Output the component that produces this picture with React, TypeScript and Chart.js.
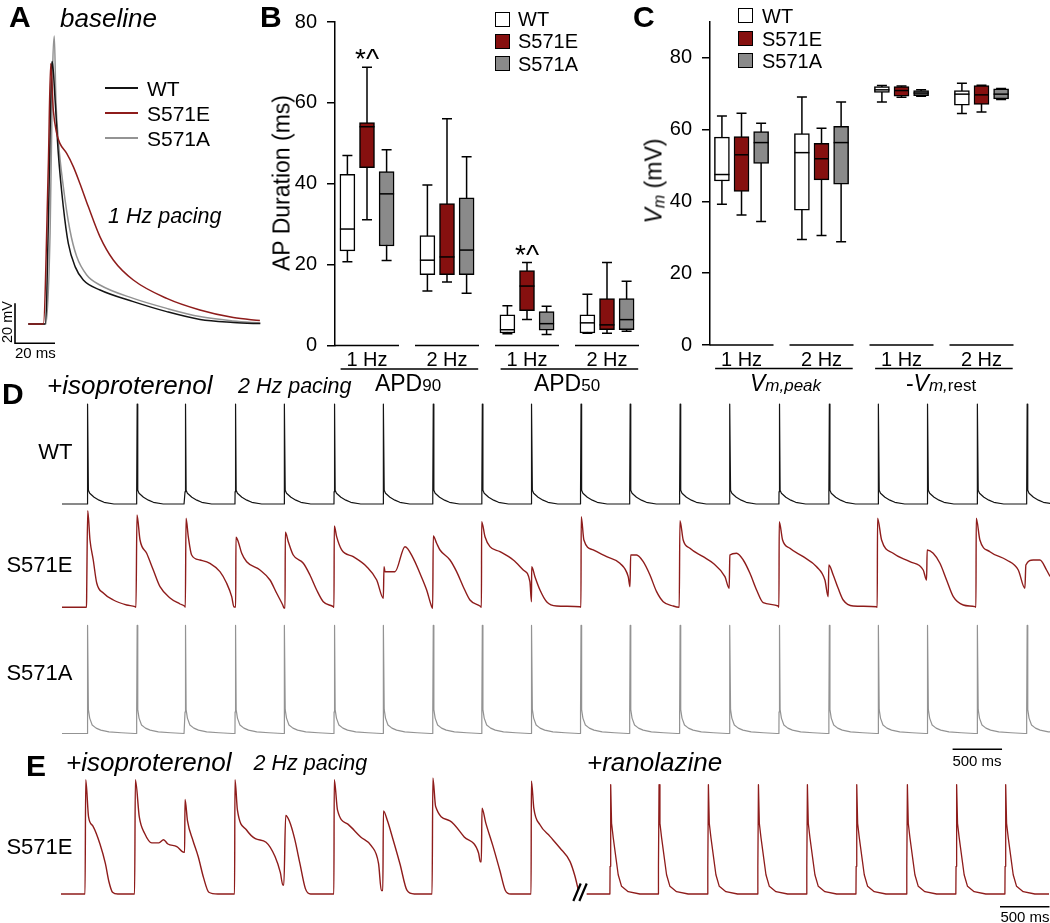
import React, { useEffect, useRef } from "react";
import { Chart, registerables } from "chart.js";

Chart.register(...registerables);

const FONT = "'Liberation Sans', Arial, Helvetica, sans-serif";
Chart.defaults.font.family = FONT;
Chart.defaults.color = "#000";

// ======================= DATA =======================
type Pt = [number, number];
type Box = [number, number, number, number, number]; // [min, q1, median, q3, max]

// Panel A – baseline single APs at 1 Hz pacing: [time (ms), Vm (mV)]
const apWT: Pt[] = [
  [0, -80], [8.4, -80], [9.2, -68], [10.9, 15.5], [11.7, 48.7], [12, 51.2], [13.4, 32], [15, 5.3],
  [17.5, -21.3], [20, -39.7], [23.4, -51.3], [27.5, -58], [35.9, -63], [52.5, -68.8], [69.2, -73.8],
  [85.9, -77.7], [102.5, -79.2], [112.5, -79.7], [116, -79.8],
];
const apS571E: Pt[] = [
  [0, -80], [7.5, -80], [10, -1.3], [11.2, 50.3], [12.5, 27], [14.2, 15.3], [15.8, 10.3], [19.2, 5.3],
  [22.5, -1.3], [25.8, -9.7], [30, -21.3], [35.8, -36.3], [42.5, -48], [52.5, -58], [69.2, -67.2],
  [85.8, -73], [102.5, -76.8], [115.8, -78.3],
];
const apS571A: Pt[] = [
  [0, -80], [8.8, -80], [10.9, -34.5], [12.2, 48.7], [13, 64], [13.8, 32], [15, 12], [17.5, -11.3],
  [20.8, -33], [24.2, -46.3], [29.2, -55.5], [35.8, -60.5], [52.5, -67.2], [69.2, -72.2], [85.8, -76.3],
  [102.5, -78.5], [112.5, -79.3], [116, -79.5],
];

const seriesNames = ["WT", "S571E", "S571A"];

// Panel B – AP duration (ms), box stats per group
const apdGroupLabels = ["1 Hz", "2 Hz", "1 Hz", "2 Hz"];
const apdWT: Box[] = [[20.7, 23.4, 28.8, 42.3, 47.0], [13.5, 17.5, 21.1, 27.2, 39.7], [2.9, 3.1, 3.9, 7.6, 9.8], [3.0, 3.1, 5.6, 7.6, 12.7]];
const apdS571E: Box[] = [[31.1, 44.0, 54.1, 55.1, 68.8], [15.7, 17.5, 21.9, 35.1, 56.1], [6.4, 8.6, 14.7, 18.5, 20.5], [3.0, 3.9, 5.1, 11.6, 20.5]];
const apdS571A: Box[] = [[21.0, 24.6, 37.5, 43.0, 48.4], [12.9, 17.5, 23.6, 36.5, 46.7], [2.7, 3.8, 5.4, 8.4, 9.7], [3.5, 3.9, 6.4, 11.6, 15.9]];
const apdTicks = [0, 20, 40, 60, 80];
const apdSignificant: [number, number][] = [[0, 1], [2, 1]]; // [group, series] marked *^

// Panel C – Vm (mV), box stats per group
const vmGroupLabels = ["1 Hz", "2 Hz", "1 Hz", "2 Hz"];
const vmWT: Box[] = [[39.2, 45.7, 47.5, 57.9, 63.8], [29.4, 37.6, 53.6, 58.9, 69.1], [67.7, 70.4, 71.1, 72.0, 72.3], [64.5, 66.8, 69.9, 70.9, 72.9]];
const vmS571E: Box[] = [[36.2, 42.8, 53.0, 58.1, 64.6], [30.5, 46.0, 51.9, 56.2, 60.4], [69.0, 69.3, 70.9, 72.0, 72.2], [64.9, 67.0, 69.7, 72.3, 72.4]];
const vmS571A: Box[] = [[34.4, 50.6, 56.4, 59.5, 61.8], [28.8, 44.8, 56.4, 60.9, 67.7], [69.3, 69.5, 70.2, 70.9, 71.1], [68.4, 68.6, 69.9, 71.4, 71.5]];
const vmTicks = [0, 20, 40, 60, 80];

// Panel D – +isoproterenol, 2 Hz pacing (time ms, Vm mV)
const isoPacingOnsets = [255, 754, 1243, 1749, 2245, 2750, 3246, 3748, 4244, 4744, 5242, 5739, 6244, 6748, 7249, 7753, 8251, 8748, 9252, 9753];
const wtBeatShape: Pt[] = [[0, -80], [1, -64], [6, 50], [12, -62], [25, -66], [70, -71.2], [120, -75], [170, -77.8], [270, -80], [480, -80]];
const s571aBeatShape: Pt[] = [[0, -80], [1, -52], [6, 60.5], [12, -49], [25, -60], [50, -69], [90, -73], [137, -75.6], [220, -77.8], [344, -79], [480, -80]];
const isoS571ETrace: Pt[] = [
  [0, -80], [248, -80], [250, -56.2], [260, 45.6], [283, 7.5], [316, -18.5], [351, -48.4], [418, -61.4], [519, -70.5], [654, -77], [738, -79.2],
  [748, -80], [758, 40], [789, 7.5], [856, -9.8], [923, -31.5], [991, -53.2], [1092, -67.9], [1193, -75.7], [1244, -79.2],
  [1247, -80], [1254, 35.7], [1277, 11.8], [1311, -12], [1395, -18.5], [1496, -22.8], [1597, -33.7], [1665, -48.8], [1716, -66.2], [1739, -79.6],
  [1756, -79.6], [1759, 11], [1782, 5.3], [1817, -9.8], [1867, -20.7], [2002, -31.5], [2103, -44.5], [2171, -61.8], [2232, -77], [2245, -80.9],
  [2255, -80.9], [2258, 17.5], [2288, 5.3], [2338, -12], [2440, -22.8], [2507, -38], [2575, -57.5], [2642, -72.7], [2743, -79.2],
  [2750, -80], [2753, 25.7], [2777, 11.8], [2828, -5.5], [2945, -14.2], [3081, -27.2], [3182, -44.5], [3249, -68.3],
  [3256, -27.2], [3266, -33.7], [3367, -33.7], [3468, -1.2], [3552, -16.3], [3619, -35.8], [3687, -57.5], [3738, -79.2], [3748, -81.3],
  [3754, 12.7], [3788, 3.2], [3822, -5.5], [3923, -18.5], [3990, -33.7], [4057, -53.2], [4125, -70.5], [4226, -78.3], [4241, -80],
  [4243, 31.3], [4277, 11.8], [4327, -1.2], [4428, -7.7], [4563, -18.5], [4664, -31.5], [4731, -46.7], [4747, -72.7],
  [4749, -27.2], [4782, -40.2], [4833, -57.5], [4900, -72.7], [5001, -78.3], [5237, -79.2],
  [5247, -80], [5250, 37.8], [5277, 7.5], [5371, -5.5], [5507, -14.2], [5641, -22.8], [5725, -40.2], [5743, -53.2],
  [5750, -12], [5810, -12], [5877, -20.7], [5945, -38], [6012, -59.7], [6079, -72.7], [6180, -78.3], [6241, -80],
  [6248, 32.6], [6281, 7.5], [6349, -3.3], [6483, -14.2], [6584, -22.8], [6703, -40.2], [6746, -55.3],
  [6753, -12], [6821, -9.8], [6888, -18.5], [6956, -35.8], [7023, -57.5], [7090, -74], [7242, -78.3],
  [7249, -80], [7252, 31.3], [7286, 7.5], [7360, -3.3], [7495, -14.2], [7630, -27.2], [7714, -44.5], [7747, -66.2],
  [7754, -25], [7798, -38], [7848, -55.3], [7899, -70.5], [8000, -78.3], [8236, -79.2],
  [8243, -80], [8246, 35.7], [8287, 7.5], [8404, -9.8], [8573, -20.7], [8708, -31.5], [8742, -44.5],
  [8748, -5.5], [8809, -9.8], [8877, -22.8], [8944, -44.5], [9012, -66.2], [9113, -77], [9231, -79.2],
  [9241, -80], [9244, 35.7], [9281, 7.5], [9382, -7.7], [9551, -18.5], [9669, -31.5], [9736, -55.3],
  [9746, -25], [9820, -18.5], [9888, -18.5], [9955, -31.5], [9990, -40],
];

// Panel E – S571E +isoproterenol then (after break) +ranolazine
const isoS571ETraceE: Pt[] = [
  [0, -80], [243, -80], [250, 68.5], [279, 19.8], [323, 8.2], [394, -15], [449, -40.6], [484, -63.8], [521, -77.7], [575, -80], [744, -80],
  [752, 68.5], [792, 19.8], [845, -1.1], [918, -13.6], [990, -13.6], [1037, -9.5], [1081, -15], [1171, -18.3], [1243, -25.7],
  [1250, -25.7], [1254, 43], [1279, 15.1], [1334, -10.4], [1387, -31.3], [1442, -59.1], [1495, -77.7], [1586, -80], [1755, -80],
  [1759, 68.5], [1784, 29], [1874, 3.5], [1965, -8.1], [2073, -12.7], [2164, -31.3], [2218, -52.2], [2243, -68.4],
  [2253, -68.4], [2272, 22], [2308, 15.1], [2362, -8.1], [2416, -40.6], [2471, -73], [2524, -80], [2759, -80],
  [2763, 68.5], [2796, 29], [2904, 10.5], [3030, -5.8], [3138, -17.4], [3211, -40.6], [3239, -75.4],
  [3254, -75.4], [3260, 28.1], [3301, 15.1], [3355, -8.1], [3427, -40.6], [3499, -75.4], [3572, -80], [3752, -80],
  [3760, 70.8], [3788, 33.7], [3933, 15.1], [4077, -5.8], [4222, -26.6], [4240, -38.2],
  [4250, -38.2], [4257, 31.4], [4294, 12.8], [4367, -17.4], [4438, -49.8], [4493, -75.4], [4547, -80], [4753, -80],
  [4756, 67.1], [4781, 31.4], [4843, 10], [4944, -5.1], [5045, -20.2], [5146, -37.6], [5197, -57], [5230, -74.4],
];
const ranoStart = 5315;
const ranoEnd = 9990;
const ranoOnsets = [5550, 6039, 6538, 7044, 7539, 8038, 8550, 9048, 9544];
const ranoBeatShape: Pt[] = [[0, -80], [2, -44], [8, 62], [17, 12], [34, -7], [61, -33], [84, -55], [118, -70], [185, -77], [303, -80]];
const breakTime = 5248;

// Scale bars (data units)
const scaleBarA = { ms: 20, mV: 20 };
const scaleBarD = { ms: 500 };
const scaleBarE = { ms: 500 };

// ======================= STYLE / LAYOUT =======================
const BLACK = "#141414";
const RED_FILL = "#86100f";
const RED_LINE = "#8e1c1b";
const GRAY_FILL = "#8a8a8a";
const GRAY_LINE = "#939393";
const REST = -80;

const ptsToXY = (pts: Pt[]) => pts.map(([x, y]) => ({ x, y }));
function repeatBeats(onsets: number[], shape: Pt[], tStart: number) {
  const out = [{ x: tStart, y: shape[0][1] }];
  onsets.forEach((o) => shape.forEach(([dt, v]) => out.push({ x: o + dt, y: v })));
  return out;
}

function traceDs(data: any[], color: string, width: number, yAxisID = "y", smooth = false) {
  const ds: any = { data, borderColor: color, borderWidth: width, pointRadius: 0, tension: 0, fill: false, yAxisID, borderJoinStyle: "round" };
  if (smooth) ds.cubicInterpolationMode = "monotone";
  return ds;
}

function scaleBarPlugin(bars: any[]) {
  return {
    id: "scaleBars",
    afterDraw(chart: any) {
      const ctx = chart.ctx;
      ctx.save();
      ctx.strokeStyle = "#000";
      ctx.lineWidth = 1.6;
      ctx.lineCap = "butt";
      bars.forEach((b) => {
        const xs = chart.scales.x;
        const ys = chart.scales[b.yAxis || "y"];
        const x0 = xs.getPixelForValue(b.t);
        const y0 = ys.getPixelForValue(b.v);
        ctx.beginPath();
        if (b.mV) {
          ctx.moveTo(x0, ys.getPixelForValue(b.v + b.mV));
          ctx.lineTo(x0, y0);
        } else ctx.moveTo(x0, y0);
        ctx.lineTo(xs.getPixelForValue(b.t + b.ms), y0);
        ctx.stroke();
      });
      ctx.restore();
    },
  };
}

const baseOpts = {
  animation: false,
  responsive: false,
  events: [],
  layout: { padding: 0 },
  plugins: { legend: { display: false }, tooltip: { enabled: false }, title: { display: false } },
};

// ---------- Panel A ----------
const A = { left: 0, top: 0, w: 265, h: 362, x0: 28.3, pxPerMs: 2, restPx: 324, pxPerMv: 2, barX: 15, barY: 343.3 };
function configA() {
  const xMin = (A.left - A.x0) / A.pxPerMs;
  const xMax = (A.left + A.w - A.x0) / A.pxPerMs;
  const yMax = REST + (A.restPx - A.top) / A.pxPerMv;
  const yMin = REST - (A.top + A.h - A.restPx) / A.pxPerMv;
  const barT = (A.barX - A.x0) / A.pxPerMs;
  const barV = REST - (A.barY - A.restPx) / A.pxPerMv;
  return {
    type: "line",
    data: {
      datasets: [
        traceDs(ptsToXY(apS571E), RED_LINE, 1.5, "y", true),
        traceDs(ptsToXY(apWT), BLACK, 1.5, "y", true),
        traceDs(ptsToXY(apS571A), GRAY_LINE, 1.5, "y", true),
      ],
    },
    options: {
      ...baseOpts,
      scales: {
        x: { type: "linear", display: false, min: xMin, max: xMax },
        y: { type: "linear", display: false, min: yMin, max: yMax },
      },
    },
    plugins: [scaleBarPlugin([{ t: barT, v: barV, ms: scaleBarA.ms, mV: scaleBarA.mV }])],
  };
}

// ---------- Box plot panels (B, C) ----------
function boxConfig(p: any) {
  const offsets = [-0.245, 0, 0.245];
  const fills = ["#ffffff", RED_FILL, GRAY_FILL];
  const datasets = p.series.map((stats: Box[], si: number) => ({
    type: "bar",
    label: seriesNames[si],
    data: stats.map((b, g) => ({ x: g + offsets[si], y: [b[1], b[3]] })),
    stats,
    backgroundColor: fills[si],
    borderColor: "#000",
    borderWidth: 1.5,
    borderSkipped: false,
    barThickness: 15,
    grouped: false,
  }));
  const CAP = 10;
  const plugin = {
    id: "boxWhisker",
    beforeDatasetsDraw(chart: any) {
      const ctx = chart.ctx;
      const ys = chart.scales.y;
      ctx.save();
      ctx.strokeStyle = "#000";
      ctx.lineWidth = 1.5;
      chart.data.datasets.forEach((ds: any, i: number) => {
        chart.getDatasetMeta(i).data.forEach((el: any, j: number) => {
          const s = ds.stats[j];
          const x = el.x;
          const yLo = ys.getPixelForValue(s[0]);
          const yHi = ys.getPixelForValue(s[4]);
          ctx.beginPath();
          ctx.moveTo(x, yHi); ctx.lineTo(x, yLo);
          ctx.moveTo(x - CAP / 2, yHi); ctx.lineTo(x + CAP / 2, yHi);
          ctx.moveTo(x - CAP / 2, yLo); ctx.lineTo(x + CAP / 2, yLo);
          ctx.stroke();
        });
      });
      ctx.restore();
    },
    afterDatasetsDraw(chart: any) {
      const ctx = chart.ctx;
      const ys = chart.scales.y;
      ctx.save();
      ctx.strokeStyle = "#000";
      ctx.lineWidth = 1.5;
      chart.data.datasets.forEach((ds: any, i: number) => {
        chart.getDatasetMeta(i).data.forEach((el: any, j: number) => {
          const ym = ys.getPixelForValue(ds.stats[j][2]);
          ctx.beginPath();
          ctx.moveTo(el.x - el.width / 2, ym);
          ctx.lineTo(el.x + el.width / 2, ym);
          ctx.stroke();
        });
      });
      // *^ significance marks
      ctx.fillStyle = "#000";
      ctx.textAlign = "center";
      ctx.textBaseline = "alphabetic";
      (p.significant || []).forEach(([g, si]: [number, number]) => {
        const el = chart.getDatasetMeta(si).data[g];
        const yTop = ys.getPixelForValue(chart.data.datasets[si].stats[g][4]);
        ctx.font = `28px ${FONT}`;
        ctx.fillText("*^", el.x, yTop + 1);
      });
      ctx.restore();
    },
    afterDraw(chart: any) {
      const ctx = chart.ctx;
      const xs = chart.scales.x;
      const yb = chart.chartArea.bottom;
      ctx.save();
      ctx.strokeStyle = "#000";
      ctx.lineWidth = 1.6;
      ctx.beginPath();
      p.labels.forEach((_: string, g: number) => {
        ctx.moveTo(xs.getPixelForValue(g - 0.4), yb);
        ctx.lineTo(xs.getPixelForValue(g + 0.4), yb);
      });
      [[0, 1], [2, 3]].forEach(([g0, g1]) => {
        ctx.moveTo(xs.getPixelForValue(g0 - 0.33), yb + 23.5);
        ctx.lineTo(xs.getPixelForValue(g1 + 0.39), yb + 23.5);
      });
      ctx.stroke();
      ctx.restore();
    },
  };
  return {
    type: "bar",
    data: { datasets },
    options: {
      ...baseOpts,
      layout: { padding: { top: p.padTop, right: p.padRight, left: 0, bottom: 0 } },
      scales: {
        x: {
          type: "linear",
          min: p.xMin,
          max: p.xMax,
          offset: false,
          grid: { display: false, drawTicks: false },
          border: { display: false },
          afterBuildTicks: (s: any) => { s.ticks = p.labels.map((_: string, i: number) => ({ value: i })); },
          afterFit: (s: any) => { s.height = p.xAxisH; },
          ticks: {
            autoSkip: false,
            maxRotation: 0,
            padding: 3,
            font: { size: 20 },
            color: "#000",
            callback: (v: number) => p.labels[Math.round(v)] ?? "",
          },
        },
        y: {
          type: "linear",
          min: 0,
          max: p.yMax,
          afterBuildTicks: (s: any) => { s.ticks = p.ticks.map((v: number) => ({ value: v })); },
          afterFit: (s: any) => { s.width = p.yAxisW; },
          grid: { drawOnChartArea: false, drawTicks: true, tickLength: 8, color: "#000", lineWidth: 1.5 },
          border: { display: true, color: "#000", width: 1.5 },
          ticks: { padding: 10, font: { size: 20 }, color: "#000" },
        },
      },
    },
    plugins: [plugin],
  };
}

const B = { left: 250, top: 0, w: 400, h: 395 };
const C = { left: 625, top: 0, w: 420, h: 395 };
const configB = () =>
  boxConfig({
    labels: apdGroupLabels, series: [apdWT, apdS571E, apdS571A], ticks: apdTicks, yMax: 80,
    xMin: -0.4, xMax: 3.5, padTop: 15.5, padRight: 3, yAxisW: 85, xAxisH: 49.5, significant: apdSignificant,
  });
const configC = () =>
  boxConfig({
    labels: vmGroupLabels, series: [vmWT, vmS571E, vmS571A], ticks: vmTicks, yMax: 90,
    xMin: -0.394, xMax: 3.45, padTop: 13.3, padRight: 27.5, yAxisW: 85, xAxisH: 50, significant: [],
  });

// ---------- Panel D ----------
const PX_PER_MS = 0.0989;
const MV_PER_PX = 1.3;
const D = { left: 55, top: 400, w: 995, h: 375, x0: 62, baseWT: 504, baseE: 607.3, baseA: 733.5, barX: 952.6, barY: 749.3 };
function yRange(top: number, h: number, base: number) {
  return { min: REST - (top + h - base) * MV_PER_PX, max: REST + (base - top) * MV_PER_PX };
}
function configD() {
  const xMin = (D.left - D.x0) / PX_PER_MS;
  const xMax = (D.left + D.w - D.x0) / PX_PER_MS;
  const barT = (D.barX - D.x0) / PX_PER_MS;
  const barV = REST - (D.barY - D.baseA) * MV_PER_PX;
  return {
    type: "line",
    data: {
      datasets: [
        traceDs(repeatBeats(isoPacingOnsets, wtBeatShape, 0), BLACK, 1.2, "yWT"),
        traceDs(ptsToXY(isoS571ETrace), RED_LINE, 1.4, "yE", true),
        traceDs(repeatBeats(isoPacingOnsets, s571aBeatShape, 0), GRAY_LINE, 1.2, "yA"),
      ],
    },
    options: {
      ...baseOpts,
      scales: {
        x: { type: "linear", display: false, min: xMin, max: xMax },
        yWT: { type: "linear", axis: "y", display: false, ...yRange(D.top, D.h, D.baseWT) },
        yE: { type: "linear", axis: "y", display: false, ...yRange(D.top, D.h, D.baseE) },
        yA: { type: "linear", axis: "y", display: false, ...yRange(D.top, D.h, D.baseA) },
      },
    },
    plugins: [scaleBarPlugin([{ t: barT, v: barV, ms: scaleBarD.ms, yAxis: "yA" }])],
  };
}

// ---------- Panel E ----------
const E = { left: 55, top: 775, w: 995, h: 148, x0: 61, base: 894, barX: 1000, barY: 906.7 };
function configE() {
  const xMin = (E.left - E.x0) / PX_PER_MS;
  const xMax = (E.left + E.w - E.x0) / PX_PER_MS;
  const barT = (E.barX - E.x0) / PX_PER_MS;
  const barV = REST - (E.barY - E.base) * MV_PER_PX;
  const rano = repeatBeats(ranoOnsets, ranoBeatShape, ranoStart);
  rano.push({ x: ranoEnd, y: REST });
  const breakPlugin = {
    id: "axisBreak",
    afterDraw(chart: any) {
      const ctx = chart.ctx;
      const cx = chart.scales.x.getPixelForValue(breakTime);
      const cy = chart.scales.y.getPixelForValue(REST) - 2;
      ctx.save();
      ctx.strokeStyle = "#000";
      ctx.lineWidth = 2.2;
      ctx.beginPath();
      ctx.moveTo(cx - 6.7, cy + 9); ctx.lineTo(cx + 0.7, cy - 8.5);
      ctx.moveTo(cx - 0.7, cy + 9); ctx.lineTo(cx + 6.7, cy - 8.5);
      ctx.stroke();
      ctx.restore();
    },
  };
  return {
    type: "line",
    data: {
      datasets: [
        traceDs(ptsToXY(isoS571ETraceE), RED_LINE, 1.4, "y", true),
        traceDs(rano, RED_LINE, 1.3),
      ],
    },
    options: {
      ...baseOpts,
      scales: {
        x: { type: "linear", display: false, min: xMin, max: xMax },
        y: { type: "linear", display: false, ...yRange(E.top, E.h, E.base) },
      },
    },
    plugins: [scaleBarPlugin([{ t: barT, v: barV, ms: scaleBarE.ms }]), breakPlugin],
  };
}

// ======================= COMPONENTS =======================
function ChartCanvas({ box, config }: any) {
  const ref = useRef<HTMLCanvasElement>(null);
  useEffect(() => {
    const chart = new Chart(ref.current as HTMLCanvasElement, config() as any);
    return () => chart.destroy();
  }, []);
  return (
    <canvas
      ref={ref}
      width={box.w}
      height={box.h}
      style={{ position: "absolute", left: box.left, top: box.top, width: box.w, height: box.h }}
    />
  );
}

function T({ x, y, size, children, align = "left", italic = false, bold = false, style = {} }: any) {
  const tx = align === "center" ? "translateX(-50%)" : align === "right" ? "translateX(-100%)" : "none";
  return (
    <div
      style={{
        position: "absolute",
        left: x,
        top: y - 0.85 * size,
        fontSize: size,
        lineHeight: 1,
        fontFamily: FONT,
        fontStyle: italic ? "italic" : "normal",
        fontWeight: bold ? 700 : 400,
        whiteSpace: "nowrap",
        color: "#000",
        transform: tx,
        ...style,
      }}
    >
      {children}
    </div>
  );
}

function RotT({ cx, cy, size, children }: any) {
  return (
    <div
      style={{
        position: "absolute",
        left: cx,
        top: cy,
        fontSize: size,
        lineHeight: 1,
        fontFamily: FONT,
        whiteSpace: "nowrap",
        color: "#000",
        transform: "translate(-50%, -50%) rotate(-90deg)",
      }}
    >
      {children}
    </div>
  );
}

function Swatch({ x, y, color }: any) {
  return (
    <div style={{ position: "absolute", left: x, top: y, width: 15, height: 15, boxSizing: "border-box", border: "1.5px solid #000", background: color }} />
  );
}

function LegendLine({ x, y, color }: any) {
  return <div style={{ position: "absolute", left: x, top: y - 1, width: 33, height: 2, background: color }} />;
}

export default function App() {
  const sub = { fontSize: 17 };
  return (
    <div style={{ position: "fixed", left: 0, top: 0, width: 1050, height: 923, background: "#fff", overflow: "hidden" }}>
      <ChartCanvas box={A} config={configA} />
      <ChartCanvas box={B} config={configB} />
      <ChartCanvas box={C} config={configC} />
      <ChartCanvas box={D} config={configD} />
      <ChartCanvas box={E} config={configE} />

      {/* Panel A */}
      <T x={9} y={27} size={30} bold>A</T>
      <T x={60} y={27} size={26} italic>baseline</T>
      <LegendLine x={105} y={88.3} color={BLACK} />
      <LegendLine x={105} y={113.3} color={RED_LINE} />
      <LegendLine x={105} y={137.7} color={GRAY_LINE} />
      <T x={147} y={96} size={21}>{seriesNames[0]}</T>
      <T x={147} y={121} size={21}>{seriesNames[1]}</T>
      <T x={147} y={145.5} size={21}>{seriesNames[2]}</T>
      <T x={108} y={224} size={21.5} italic>1 Hz pacing</T>
      <RotT cx={7} cy={322} size={14.5}>20 mV</RotT>
      <T x={15} y={358} size={15}>20 ms</T>

      {/* Panel B */}
      <T x={260} y={27} size={30} bold>B</T>
      <RotT cx={281.7} cy={182.5} size={23}>AP Duration (ms)</RotT>
      <Swatch x={495} y={12} color="#fff" />
      <Swatch x={495} y={33.5} color={RED_FILL} />
      <Swatch x={495} y={56} color={GRAY_FILL} />
      <T x={518} y={26} size={20}>{seriesNames[0]}</T>
      <T x={518} y={48.3} size={20}>{seriesNames[1]}</T>
      <T x={518} y={70.7} size={20}>{seriesNames[2]}</T>
      <T x={408} y={392} size={23} align="center">APD<span style={sub}>90</span></T>
      <T x={567} y={392} size={23} align="center">APD<span style={sub}>50</span></T>

      {/* Panel C */}
      <T x={633} y={27} size={30} bold>C</T>
      <RotT cx={655} cy={181} size={23}>
        <i>V</i><i style={{ fontSize: 16, verticalAlign: "-3px" }}>m</i> (mV)
      </RotT>
      <Swatch x={738} y={8.3} color="#fff" />
      <Swatch x={738} y={31} color={RED_FILL} />
      <Swatch x={738} y={53.3} color={GRAY_FILL} />
      <T x={762} y={23.3} size={20}>{seriesNames[0]}</T>
      <T x={762} y={45.7} size={20}>{seriesNames[1]}</T>
      <T x={762} y={68.3} size={20}>{seriesNames[2]}</T>
      <T x={785.5} y={392} size={23} align="center"><i>V</i><i style={sub}>m,peak</i></T>
      <T x={941} y={392} size={23} align="center">-<i>V</i><i style={sub}>m,</i><span style={sub}>rest</span></T>

      {/* Panel D */}
      <T x={2} y={404} size={30} bold>D</T>
      <T x={47} y={394} size={26} italic>+isoproterenol</T>
      <T x={238} y={394} size={21.5} italic>2 Hz pacing</T>
      <T x={72.5} y={459.6} size={22} align="right">{seriesNames[0]}</T>
      <T x={72.5} y={573} size={22} align="right">{seriesNames[1]}</T>
      <T x={72.5} y={681} size={22} align="right">{seriesNames[2]}</T>
      <T x={977} y={766} size={15} align="center">500 ms</T>

      {/* Panel E */}
      <T x={26} y={776} size={30} bold>E</T>
      <T x={66} y={771} size={26} italic>+isoproterenol</T>
      <T x={253.6} y={771} size={21.5} italic>2 Hz pacing</T>
      <T x={587} y={771} size={26} italic>+ranolazine</T>
      <T x={72.5} y={854.6} size={22} align="right">{seriesNames[1]}</T>
      <T x={1025} y={922} size={15} align="center">500 ms</T>
    </div>
  );
}
